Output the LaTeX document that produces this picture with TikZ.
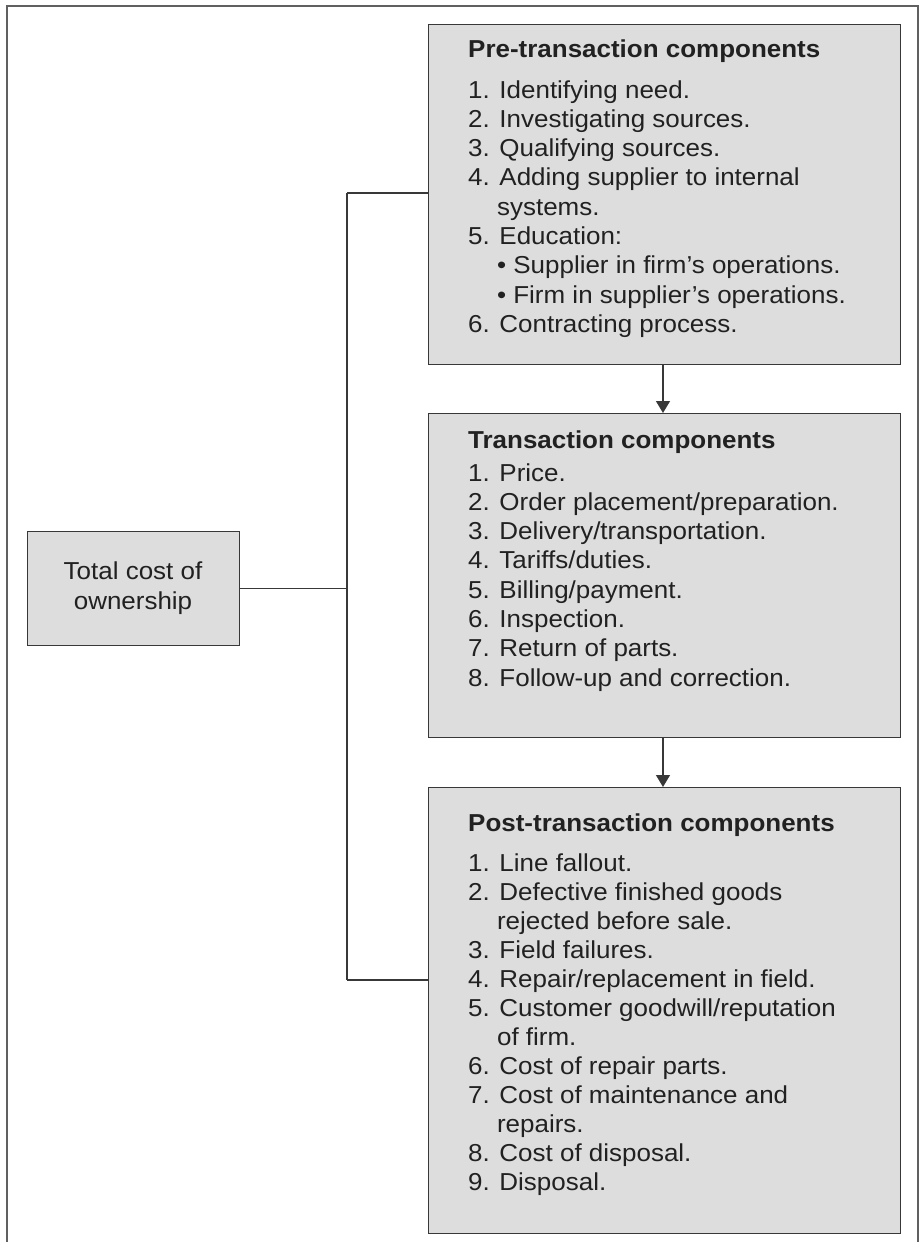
\documentclass[tikz,border=0pt]{standalone}
\usepackage{fontspec}
\setmainfont[FakeStretch=1.06]{Liberation Sans}
\usetikzlibrary{arrows.meta}
\definecolor{panelfill}{gray}{0.865}
\definecolor{edge}{gray}{0.22}
\definecolor{ink}{gray}{0.13}
% one text line of a list; \contline indents a wrapped continuation line
\newcommand\rowline[1]{\hbox{#1}}
\newcommand\contline[1]{\hbox{\phantom{4.\ }#1}}
\newcommand\bulline[1]{\hbox{\phantom{4.\ }\textbullet\ #1}}
\begin{document}
\begin{tikzpicture}[x=1pt,y=-1pt,
  panel/.style={draw=edge,line width=1.4pt,fill=panelfill,inner sep=0pt,anchor=north west},
  listtext/.style={anchor=base west,inner sep=0pt,text=ink,font=\fontsize{24.5}{29.3}\selectfont},
  link/.style={draw=edge,line width=1.4pt},
  flow/.style={link,-{Triangle[width=14pt,length=12pt]}}]
\useasboundingbox (0,0) rectangle (919,1242);
% open frame round the figure
\draw[draw=gray!75!black,line width=1.6pt] (7,1242) -- (7,6) -- (918,6) -- (918,1242);

% the three component panels and the root box
\node[panel,minimum width=472pt,minimum height=340pt] (pre) at (428,24) {};
\node[panel,minimum width=472pt,minimum height=324pt] (trans) at (428,413) {};
\node[panel,minimum width=472pt,minimum height=446pt] (post) at (428,787) {};
\node[panel,minimum width=212pt,minimum height=114pt] (tco) at (27,531) {};

\node[listtext] (pretext) at (468,57) {\vtop{\baselineskip=29.3pt
  \rowline{\textbf{Pre-transaction components}}\vskip11.7pt
  \rowline{1. Identifying need.}
  \rowline{2. Investigating sources.}
  \rowline{3. Qualifying sources.}
  \rowline{4. Adding supplier to internal}
  \contline{systems.}
  \rowline{5. Education:}
  \bulline{Supplier in firm’s operations.}
  \bulline{Firm in supplier’s operations.}
  \rowline{6. Contracting process.}}};

\node[listtext] (transtext) at (468,448) {\vtop{\baselineskip=29.3pt
  \rowline{\textbf{Transaction components}}\vskip3.7pt
  \rowline{1. Price.}
  \rowline{2. Order placement/preparation.}
  \rowline{3. Delivery/transportation.}
  \rowline{4. Tariffs/duties.}
  \rowline{5. Billing/payment.}
  \rowline{6. Inspection.}
  \rowline{7. Return of parts.}
  \rowline{8. Follow-up and correction.}}};

\node[listtext] (posttext) at (468,831) {\vtop{\baselineskip=29pt
  \rowline{\textbf{Post-transaction components}}\vskip11pt
  \rowline{1. Line fallout.}
  \rowline{2. Defective finished goods}
  \contline{rejected before sale.}
  \rowline{3. Field failures.}
  \rowline{4. Repair/replacement in field.}
  \rowline{5. Customer goodwill/reputation}
  \contline{of firm.}
  \rowline{6. Cost of repair parts.}
  \rowline{7. Cost of maintenance and}
  \contline{repairs.}
  \rowline{8. Cost of disposal.}
  \rowline{9. Disposal.}}};

% two centred lines; the base anchor sits on the last line
\node[listtext,anchor=base,align=center] (tcotext) at (133,609) {Total cost of\\ownership};

% tree connectors from the root box
\coordinate (jtop) at (347,193);
\coordinate (jbot) at (347,980);
\coordinate (axis) at (663,0);
\draw[link] (jtop) -- (jbot);
\draw[link] (tco.east) -- (tco.east -| jtop);
\draw[link] (jtop) -- (jtop -| pre.west);
\draw[link] (jbot) -- (jbot -| post.west);

% sequence arrows between the panels
\draw[flow] (pre.south -| axis) -- (trans.north -| axis);
\draw[flow] (trans.south -| axis) -- (post.north -| axis);
\end{tikzpicture}
\end{document}
